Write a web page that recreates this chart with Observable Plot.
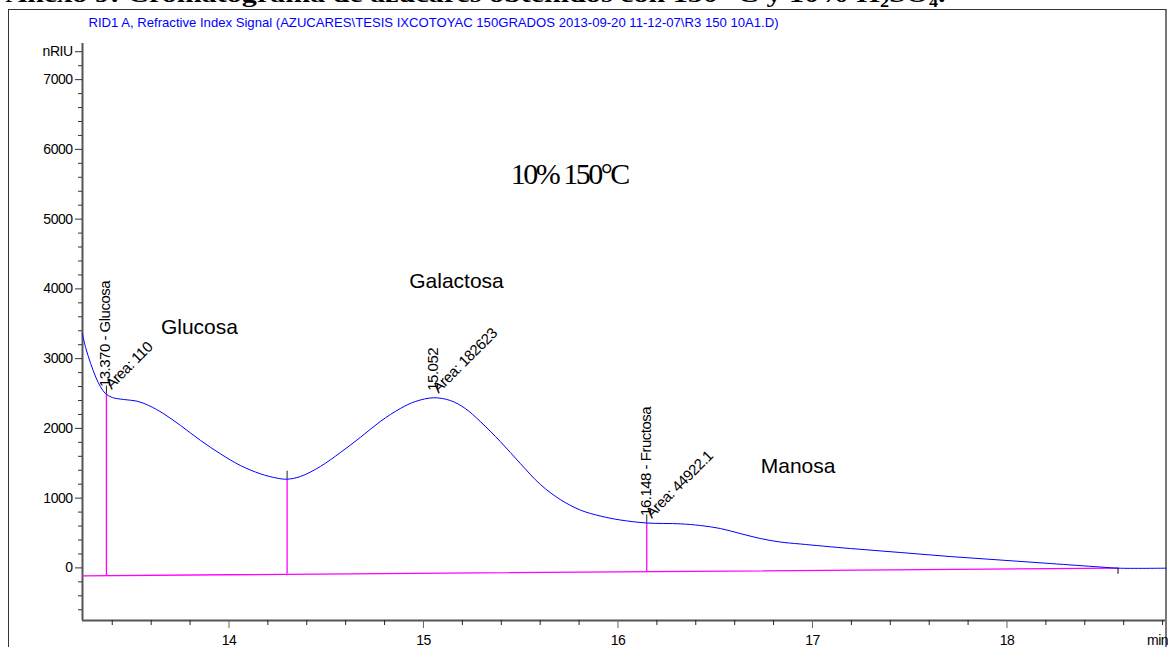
<!DOCTYPE html>
<html><head><meta charset="utf-8">
<script src="https://cdn.jsdelivr.net/npm/d3@7"></script>
<script src="https://cdn.jsdelivr.net/npm/@observablehq/plot@0.6"></script>
<style>
html,body{margin:0;padding:0;background:#fff;overflow:hidden;}
#wrap{position:relative;width:1168px;height:647px;overflow:hidden;}
#frame{position:absolute;left:8px;top:9px;width:1159px;height:700px;border:1px solid #333;border-right:2px solid #777;box-sizing:border-box;}
#chart{position:absolute;left:0;top:0;}
#chart svg text{letter-spacing:-0.5px;}
</style></head><body><div id="wrap"><div id="frame"></div><div id="chart"></div></div>
<script>
// ---- data ----
const titleText = "Anexo 9: Cromatograma de azúcares obtenidos con 150 °C y 10% H₂SO₄.";
const headerText = "RID1 A, Refractive Index Signal (AZUCARES\\TESIS IXCOTOYAC 150GRADOS 2013-09-20 11-12-07\\R3 150 10A1.D)";
const timeMin = [13.246,13.263,13.289,13.315,13.340,13.365,13.400,13.459,13.528,13.588,13.665,13.751,13.854,13.956,14.059,14.162,14.248,14.299,14.367,14.470,14.573,14.675,14.778,14.881,14.959,15.052,15.138,15.215,15.292,15.395,15.498,15.601,15.703,15.806,15.909,16.012,16.149,16.320,16.423,16.526,16.628,16.731,16.834,16.937,17.194,17.451,17.708,17.965,18.222,18.479,18.571,18.817];
const signal = [3361,3160,2930,2737,2594,2500,2443,2414,2390,2328,2209,2042,1827,1636,1468,1349,1286,1272,1310,1454,1654,1870,2099,2285,2386,2439,2400,2285,2099,1812,1497,1196,981,830,744,687,644,632,608,565,493,422,371,343,278,221,163,113,63,13,-4,-4];
const baselineT = [13.247, 18.571];
const baselineV = [-113, -4];
const dropTimes = [13.370, 14.299, 16.148];
const peakTimes = [13.370, 15.052, 16.148];
const peakNames = ["13.370 - Glucosa", "15.052", "16.148 - Fructosa"];
const peakAreas = ["Area: 110", "Area: 182623", "Area: 44922.1"];
const sugarNames = ["Glucosa", "Galactosa", "Manosa"];
const sugarT = [13.848, 15.170, 16.926];
const sugarV = [3447, 4106, 1454];
const conditionText = "10% 150°C";
const conditionT = 15.75, conditionV = 5640;
const yTicks = [0,1000,2000,3000,4000,5000,6000,7000,7400];
const yTickLabels = ["0","1000","2000","3000","4000","5000","6000","7000","nRIU"];
const xTicks = [14,15,16,17,18];
const xTickLabels = ["14","15","16","17","18"];
const unitTick = 18.8, unitLabel = "min";
const xDomain = [13.247, 18.815];
const yDomain = [-754, 7518];

// ---- derived ----
const W = 1168, H = 647, mT = 43, mB = 27, mL = 82, mR = 3;
const curve = timeMin.map((t, i) => ({t, v: signal[i]}));
const baseline = baselineT.map((t, i) => ({t, v: baselineV[i]}));
const sig = d3.scaleLinear().domain(timeMin).range(signal);
const base = d3.scaleLinear().domain(baselineT).range(baselineV);
const upp = (yDomain[1] - yDomain[0]) / (H - mT - mB);
const drops = dropTimes.map(t => ({t, base: base(t), top: sig(t), mark: sig(t) + 8 * upp}));
const peaks = peakTimes.map((t, i) => ({t, v: sig(t), name: peakNames[i], area: peakAreas[i]}));
const sugars = sugarNames.map((n, i) => ({n, t: sugarT[i], v: sugarV[i]}));
const endTick = [{t: baselineT[1], v: baselineV[1], v2: baselineV[1] - 6 * upp}];
const yMinor = d3.range(-3, 38).map(k => k * 200).filter(d => !yTicks.includes(d));
const xMinor = d3.range(67, 95).map(k => k / 5).filter(d => !xTicks.includes(d));

const sans = "Liberation Sans, Arial, sans-serif";
const chart = Plot.plot({
  width: W, height: H, marginTop: mT, marginBottom: mB, marginLeft: mL, marginRight: mR,
  style: {background: "transparent", overflow: "visible", fontFamily: sans},
  x: {domain: xDomain},
  y: {domain: yDomain},
  marks: [
    Plot.ruleX([xDomain[0]], {stroke: "#555", strokeWidth: 2}),
    Plot.ruleY([yDomain[0]], {stroke: "#555", strokeWidth: 2}),
    Plot.axisY(yMinor, {tickSize: 4, tickFormat: () => "", stroke: "#333", label: null}),
    Plot.axisY(yTicks, {tickSize: 7, tickPadding: 3, fontSize: 14, stroke: "#333", label: null,
      tickFormat: d => yTickLabels[yTicks.indexOf(d)]}),
    Plot.axisX(xMinor, {tickSize: 5, tickFormat: () => "", stroke: "#222", label: null}),
    Plot.axisX(xTicks, {tickSize: 8, tickPadding: 7, fontSize: 14, stroke: "#666", label: null,
      tickFormat: d => xTickLabels[xTicks.indexOf(d)]}),
    Plot.axisX([unitTick], {tickSize: 0, tickPadding: 15, fontSize: 14, dx: -5, label: null, tickFormat: () => unitLabel}),
    Plot.line(baseline, {x: "t", y: "v", stroke: "#ff00ff", strokeWidth: 1.3}),
    Plot.ruleX(drops, {x: "t", y1: "base", y2: "top", stroke: "#ff00ff", strokeWidth: 1.3}),
    Plot.ruleX(drops, {x: "t", y1: "top", y2: "mark", stroke: "#222", strokeWidth: 1}),
    Plot.ruleX(endTick, {x: "t", y1: "v", y2: "v2", stroke: "#555", strokeWidth: 1.5}),
    Plot.line(curve, {x: "t", y: "v", stroke: "#0000ff", strokeWidth: 1, curve: "catmull-rom"}),
    Plot.text(peaks, {x: "t", y: "v", text: "name", rotate: -90, textAnchor: "start", lineAnchor: "bottom", dx: 4, dy: -7, fontSize: 15, fill: "#000"}),
    Plot.text(peaks, {x: "t", y: "v", text: "area", rotate: -45, textAnchor: "start", lineAnchor: "bottom", dx: 5, dy: -4, fontSize: 15, fill: "#000"}),
    Plot.text(sugars, {x: "t", y: "v", text: "n", fontSize: 21, fill: "#000"}),
    Plot.text([conditionText], {x: () => conditionT, y: () => conditionV, text: d => d, fontSize: 30, fontFamily: "Liberation Serif, Times New Roman, serif", fill: "#000"}),
    Plot.text([headerText], {frameAnchor: "top-left", dx: 6, dy: -26, textAnchor: "start", fontSize: 13, fill: "#0000ff"}),
    Plot.text([titleText], {frameAnchor: "top-left", dx: -77, dy: -42, textAnchor: "start", lineAnchor: "bottom", fontSize: 24, fontWeight: "bold", fontFamily: "Liberation Serif, Times New Roman, serif", fill: "#000"})
  ]
});
document.getElementById("chart").appendChild(chart);
d3.select(chart).selectAll("text").each(function() {
  const s = d3.select(this);
  const t = this.textContent;
  if (t === headerText) s.attr("textLength", 690).attr("lengthAdjust", "spacingAndGlyphs").style("letter-spacing", "0px");
  if (t === titleText) s.attr("textLength", 940).attr("lengthAdjust", "spacingAndGlyphs").style("letter-spacing", "0px");
  if (t === conditionText) s.style("letter-spacing", "-2.5px");
  if (sugarNames.includes(t)) s.style("letter-spacing", "0px");
});
</script></body></html>
